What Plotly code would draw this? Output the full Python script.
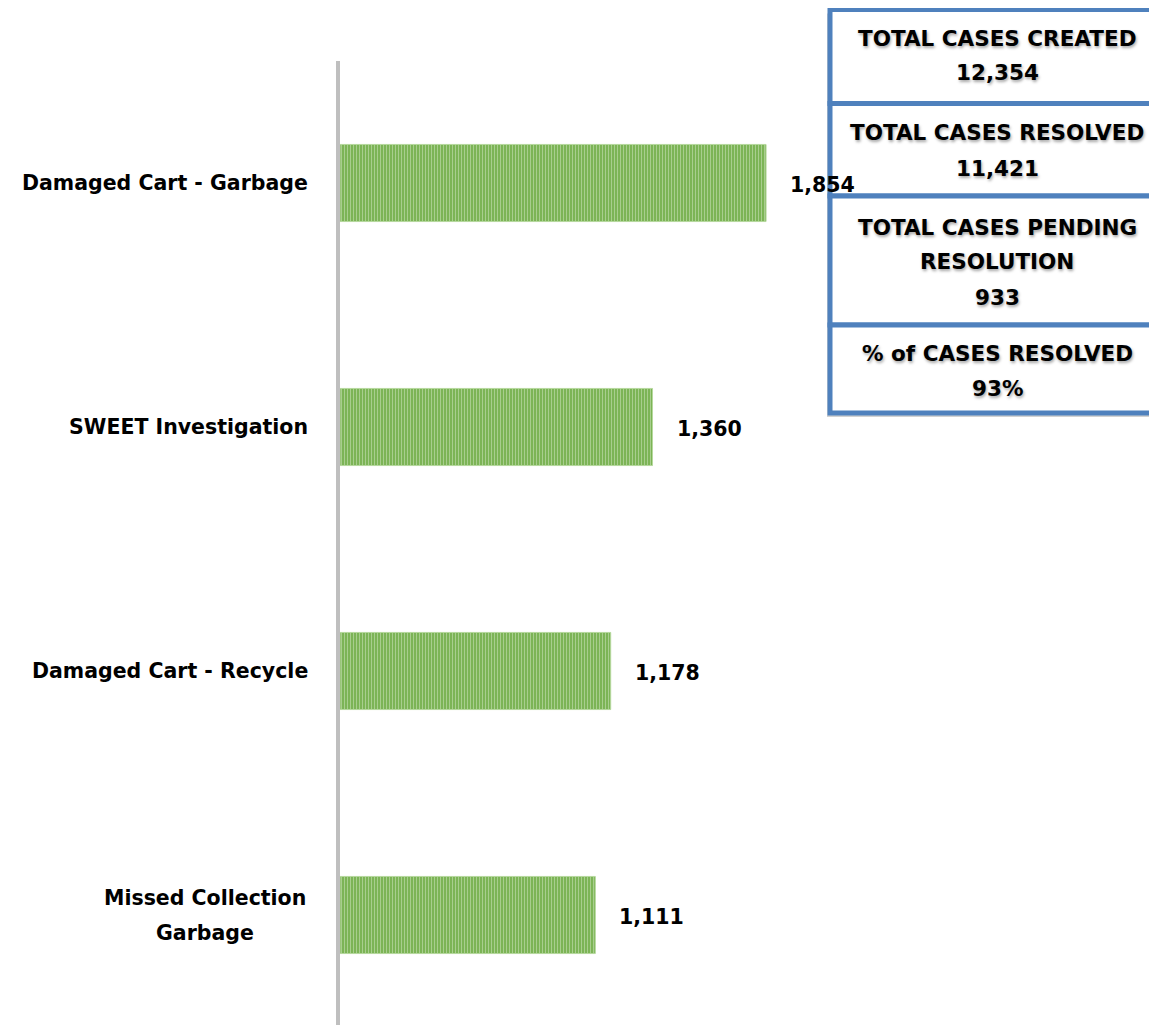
import plotly.graph_objects as go

# ---------------- data ----------------
categories = ["Damaged Cart - Garbage", "SWEET Investigation",
              "Damaged Cart - Recycle", "Missed Collection Garbage"]
category_lines = [["Damaged Cart - Garbage"], ["SWEET Investigation"],
                  ["Damaged Cart - Recycle"], ["Missed Collection", "Garbage"]]
case_counts = [1854, 1360, 1178, 1111]

summary_titles = [["TOTAL CASES CREATED"], ["TOTAL CASES RESOLVED"],
                  ["TOTAL CASES PENDING", "RESOLUTION"], ["% of CASES RESOLVED"]]
summary_values = ["12,354", "11,421", "933", "93%"]

# ---------------- layout geometry ----------------
OFF = 8                      # default page body margin
FIG_W, FIG_H = 1157 - 2 * OFF, 1033 - 2 * OFF
L, T, R, B = 340 - OFF, 61 - OFF, 0, 0
W = FIG_W - L - R
H = FIG_H - T - B
BAND = 244                   # px per category
PX_PER_UNIT = 0.2298

def px(x):
    return (x - OFF - L) / W

def py(y):
    return 1 - (y - OFF - T) / H

FONT = "DejaVu Sans"
BLUE = "#4f81bd"

fig = go.Figure()
fig.add_trace(go.Bar(
    x=case_counts, y=categories, orientation="h", width=0.316,
    marker=dict(color="#70ad47",
                line=dict(color="#b5d89d", width=1),
                pattern=dict(shape="|", fgcolor="#e0efd6", size=3,
                             solidity=0.47, fillmode="overlay")),
    hoverinfo="skip", showlegend=False,
))

annotations = []
# category labels
for cat, lines in zip(categories, category_lines):
    n = len(lines)
    for i, ln in enumerate(lines):
        if n > 1:
            annotations.append(dict(
                x=0, xref="paper", y=cat, yref="y", text=f"<b>{ln}</b>",
                xanchor="center", yanchor="middle", showarrow=False,
                xshift=(205 - OFF - L), yshift=-(i - (n - 1) / 2) * 35,
                font=dict(family=FONT, size=20.5, color="#000000")))
        else:
            annotations.append(dict(
                x=0, xref="paper", y=cat, yref="y", text=f"<b>{ln}</b>",
                xanchor="right", yanchor="middle", showarrow=False, xshift=-30,
                font=dict(family=FONT, size=20.5, color="#000000")))

# data labels
for cat, v in zip(categories, case_counts):
    annotations.append(dict(
        x=v, xref="x", y=cat, yref="y", text=f"<b>{v:,}</b>",
        xanchor="left", yanchor="middle", showarrow=False, xshift=22, yshift=-2,
        font=dict(family=FONT, size=20.5, color="#000000")))

# summary boxes
box_edges = [9.5, 103.5, 196, 325, 413]
line_centers = [[38, 73], [133, 168], [227, 261, 297], [353, 388]]
shapes = []
BOX_X0, BOX_X1 = 830, 1175
for k in range(len(summary_titles)):
    y0, y1 = box_edges[k], box_edges[k + 1]
    shapes.append(dict(type="rect", xref="paper", yref="paper",
                       x0=px(BOX_X0 - 3), x1=px(BOX_X1), y0=py(y0 + 4), y1=py(y1 + 4),
                       line=dict(width=0), fillcolor="rgba(0,0,0,0.18)", layer="above"))
for k in range(len(summary_titles)):
    y0, y1 = box_edges[k], box_edges[k + 1]
    shapes.append(dict(type="rect", xref="paper", yref="paper",
                       x0=px(BOX_X0), x1=px(BOX_X1), y0=py(y0), y1=py(y1),
                       line=dict(color=BLUE, width=5), fillcolor="#ffffff", layer="above"))
    lines = summary_titles[k] + [summary_values[k]]
    for ln, yc in zip(lines, line_centers[k]):
        annotations.append(dict(
            x=px(997), xref="paper", y=py(yc), yref="paper", text=f"<b>{ln}</b>",
            xanchor="center", yanchor="middle", showarrow=False,
            font=dict(family=FONT, size=21.5, color="#000000",
                      shadow="1px 2px 3px rgba(0,0,0,0.35)")))

fig.update_layout(
    width=FIG_W, height=FIG_H,
    margin=dict(l=L, r=R, t=T, b=B, pad=0),
    paper_bgcolor="#ffffff", plot_bgcolor="#ffffff",
    xaxis=dict(range=[0, W / PX_PER_UNIT], visible=False, showgrid=False, zeroline=False),
    yaxis=dict(type="category", categoryorder="array", categoryarray=categories,
               range=[H / BAND - 0.5, -0.5], showticklabels=False, ticks="",
               showgrid=False, zeroline=False,
               showline=True, linecolor="#bfbfbf", linewidth=4),
    annotations=annotations, shapes=shapes,
    showlegend=False,
)

fig.write_html("out.html")
